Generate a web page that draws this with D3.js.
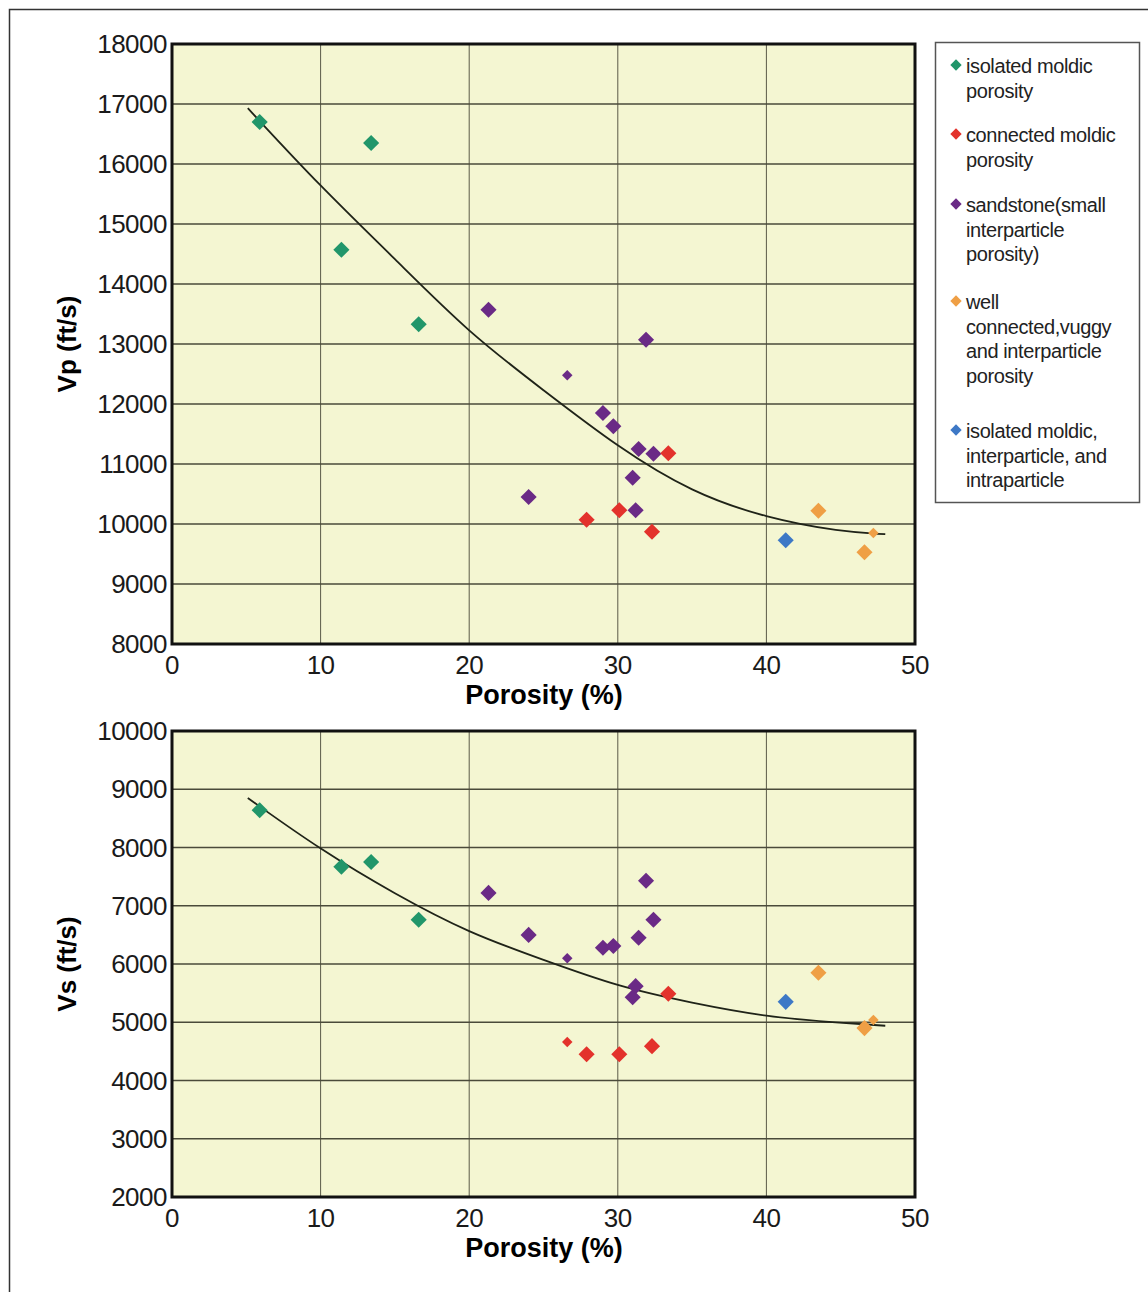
<!DOCTYPE html>
<html>
<head>
<meta charset="utf-8">
<script src="https://cdn.jsdelivr.net/npm/d3@7"></script>
<style>
  body { margin: 0; background: #fff; }
  text { font-family: "Liberation Sans", Arial, sans-serif; }
</style>
</head>
<body>
<svg id="chart" width="1148" height="1292"></svg>
<script>
// categories (legend order) and their colours
const categories = ['isolated', 'connected', 'sandstone', 'vuggy', 'mixed'];
const categoryColors = ['#21966a', '#e3322c', '#6a2a86', '#ef9f45', '#3d78c6'];
const legendLabels = [
    ['isolated moldic', 'porosity'],
    ['connected moldic', 'porosity'],
    ['sandstone(small', 'interparticle', 'porosity)'],
    ['well', 'connected,vuggy', 'and interparticle', 'porosity'],
    ['isolated moldic,', 'interparticle, and', 'intraparticle']
];

// Vp panel: porosity (%), category index, Vp (ft/s), small marker flag
const vpPorosity = [5.9, 11.4, 13.4, 16.6, 21.3, 31.9, 26.6, 29.0, 29.7, 31.4, 32.4, 31.0, 24.0, 31.2,
                    33.4, 27.9, 30.1, 32.3, 41.3, 43.5, 46.6, 47.2];
const vpCategory = [0, 0, 0, 0, 2, 2, 2, 2, 2, 2, 2, 2, 2, 2, 1, 1, 1, 1, 4, 3, 3, 3];
const vp = [16700, 14570, 16350, 13330, 13570, 13070, 12480, 11850, 11630, 11250, 11170, 10770, 10450, 10230,
            11180, 10070, 10230, 9870, 9730, 10220, 9530, 9850];
const vpSmall = [0, 0, 0, 0, 0, 0, 1, 0, 0, 0, 0, 0, 0, 0, 0, 0, 0, 0, 0, 0, 0, 1];

// Vs panel
const vsPorosity = [5.9, 11.4, 13.4, 16.6, 21.3, 31.9, 26.6, 29.0, 29.7, 31.4, 32.4, 31.0, 24.0, 31.2,
                    33.4, 26.6, 27.9, 30.1, 32.3, 41.3, 43.5, 46.6, 47.2];
const vsCategory = [0, 0, 0, 0, 2, 2, 2, 2, 2, 2, 2, 2, 2, 2, 1, 1, 1, 1, 1, 4, 3, 3, 3];
const vs = [8640, 7670, 7750, 6760, 7220, 7430, 6100, 6280, 6310, 6450, 6760, 5430, 6500, 5620,
            5490, 4660, 4450, 4450, 4590, 5350, 5850, 4900, 5040];
const vsSmall = [0, 0, 0, 0, 0, 0, 1, 0, 0, 0, 0, 0, 0, 0, 0, 1, 0, 0, 0, 0, 0, 0, 1];

// trend curves
const trendX = [5.1, 10, 15, 20, 25, 30, 35, 40, 45, 48];
const trendVp = [16930, 15620, 14420, 13180, 12230, 11280, 10520, 10100, 9870, 9830];
const trendVs = [8850, 7960, 7200, 6530, 6070, 5610, 5330, 5090, 4990, 4940];

const xTicks = [0, 10, 20, 30, 40, 50];
const vpTicks = d3.range(8000, 18001, 1000);
const vsTicks = d3.range(2000, 10001, 1000);

const svg = d3.select('#chart');

// outer frame
svg.append('rect')
    .attr('x', 9.5).attr('y', 9.5)
    .attr('width', 1160).attr('height', 1300)
    .attr('fill', 'none').attr('stroke', '#333').attr('stroke-width', 1.5);

function drawPanel(opts) {
    const x = d3.scaleLinear().domain([0, 50]).range([172, 915]);
    const y = d3.scaleLinear().domain(opts.yDomain).range([opts.bottom, opts.top]);
    const g = svg.append('g');

    g.append('rect')
        .attr('x', x(0)).attr('y', opts.top)
        .attr('width', x(50) - x(0)).attr('height', opts.bottom - opts.top)
        .attr('fill', '#f4f6d2');

    // grid
    g.append('g').selectAll('line').data(xTicks.slice(1, -1)).join('line')
        .attr('x1', d => x(d)).attr('x2', d => x(d))
        .attr('y1', opts.top).attr('y2', opts.bottom)
        .attr('stroke', '#5a5a48').attr('stroke-width', 1);
    g.append('g').selectAll('line').data(opts.yTicks.slice(1, -1)).join('line')
        .attr('x1', x(0)).attr('x2', x(50))
        .attr('y1', d => y(d)).attr('y2', d => y(d))
        .attr('stroke', '#4a4a3a').attr('stroke-width', 1.3);

    // tick labels
    g.append('g').selectAll('text').data(opts.yTicks).join('text')
        .attr('x', x(0) - 5).attr('y', d => y(d) + 9)
        .attr('text-anchor', 'end')
        .attr('font-size', 26).attr('fill', '#1a1a1a')
        .attr('letter-spacing', -0.5)
        .text(d => d);
    g.append('g').selectAll('text').data(xTicks).join('text')
        .attr('x', d => x(d)).attr('y', opts.bottom + 30)
        .attr('text-anchor', 'middle')
        .attr('font-size', 26).attr('fill', '#1a1a1a')
        .attr('letter-spacing', -0.5)
        .text(d => d);

    // axis titles
    g.append('text')
        .attr('x', 544).attr('y', opts.bottom + 60)
        .attr('text-anchor', 'middle')
        .attr('font-size', 27).attr('font-weight', 'bold')
        .text('Porosity (%)');
    g.append('text')
        .attr('transform', `translate(${opts.titleX},${(opts.top + opts.bottom) / 2}) rotate(-90)`)
        .attr('text-anchor', 'middle')
        .attr('font-size', 26).attr('font-weight', 'bold')
        .text(opts.title);

    // trend curve
    const line = d3.line()
        .x(d => x(d[0])).y(d => y(d[1]))
        .curve(d3.curveBasis);
    g.append('path')
        .datum(trendX.map((t, i) => [t, opts.trend[i]]))
        .attr('d', line)
        .attr('fill', 'none').attr('stroke', '#1f2318').attr('stroke-width', 1.8);

    // markers
    const big = d3.symbol(d3.symbolSquare, 130)();
    const small = d3.symbol(d3.symbolSquare, 55)();
    g.append('g').selectAll('path').data(opts.values.map((v, i) => i)).join('path')
        .attr('d', i => opts.small[i] ? small : big)
        .attr('transform', i => `translate(${x(opts.xs[i])},${y(opts.values[i])}) rotate(45)`)
        .attr('fill', i => categoryColors[opts.cats[i]]);

    // frame
    g.append('rect')
        .attr('x', x(0)).attr('y', opts.top)
        .attr('width', x(50) - x(0)).attr('height', opts.bottom - opts.top)
        .attr('fill', 'none').attr('stroke', '#111').attr('stroke-width', 3);
}

drawPanel({
    top: 44, bottom: 644, yDomain: [8000, 18000], yTicks: vpTicks,
    title: 'Vp (ft/s)', titleX: 76,
    xs: vpPorosity, cats: vpCategory, values: vp, small: vpSmall, trend: trendVp
});

drawPanel({
    top: 731, bottom: 1197, yDomain: [2000, 10000], yTicks: vsTicks,
    title: 'Vs (ft/s)', titleX: 76,
    xs: vsPorosity, cats: vsCategory, values: vs, small: vsSmall, trend: trendVs
});

// legend
const legend = svg.append('g');
legend.append('rect')
    .attr('x', 935.5).attr('y', 42.5).attr('width', 204).attr('height', 460)
    .attr('fill', '#fff').attr('stroke', '#555').attr('stroke-width', 1.5);

const entryTops = [66, 135, 205, 302, 431];
const legendDiamond = d3.symbol(d3.symbolSquare, 64)();
categories.forEach((c, i) => {
    legend.append('path')
        .attr('d', legendDiamond)
        .attr('transform', `translate(956,${entryTops[i] - 1}) rotate(45)`)
        .attr('fill', categoryColors[i]);
    legend.append('g').selectAll('text').data(legendLabels[i]).join('text')
        .attr('x', 966).attr('y', (d, k) => entryTops[i] + 7 + k * 24.5)
        .attr('font-size', 20).attr('fill', '#222')
        .attr('letter-spacing', -0.4)
        .text(d => d);
});
</script>
</body>
</html>
